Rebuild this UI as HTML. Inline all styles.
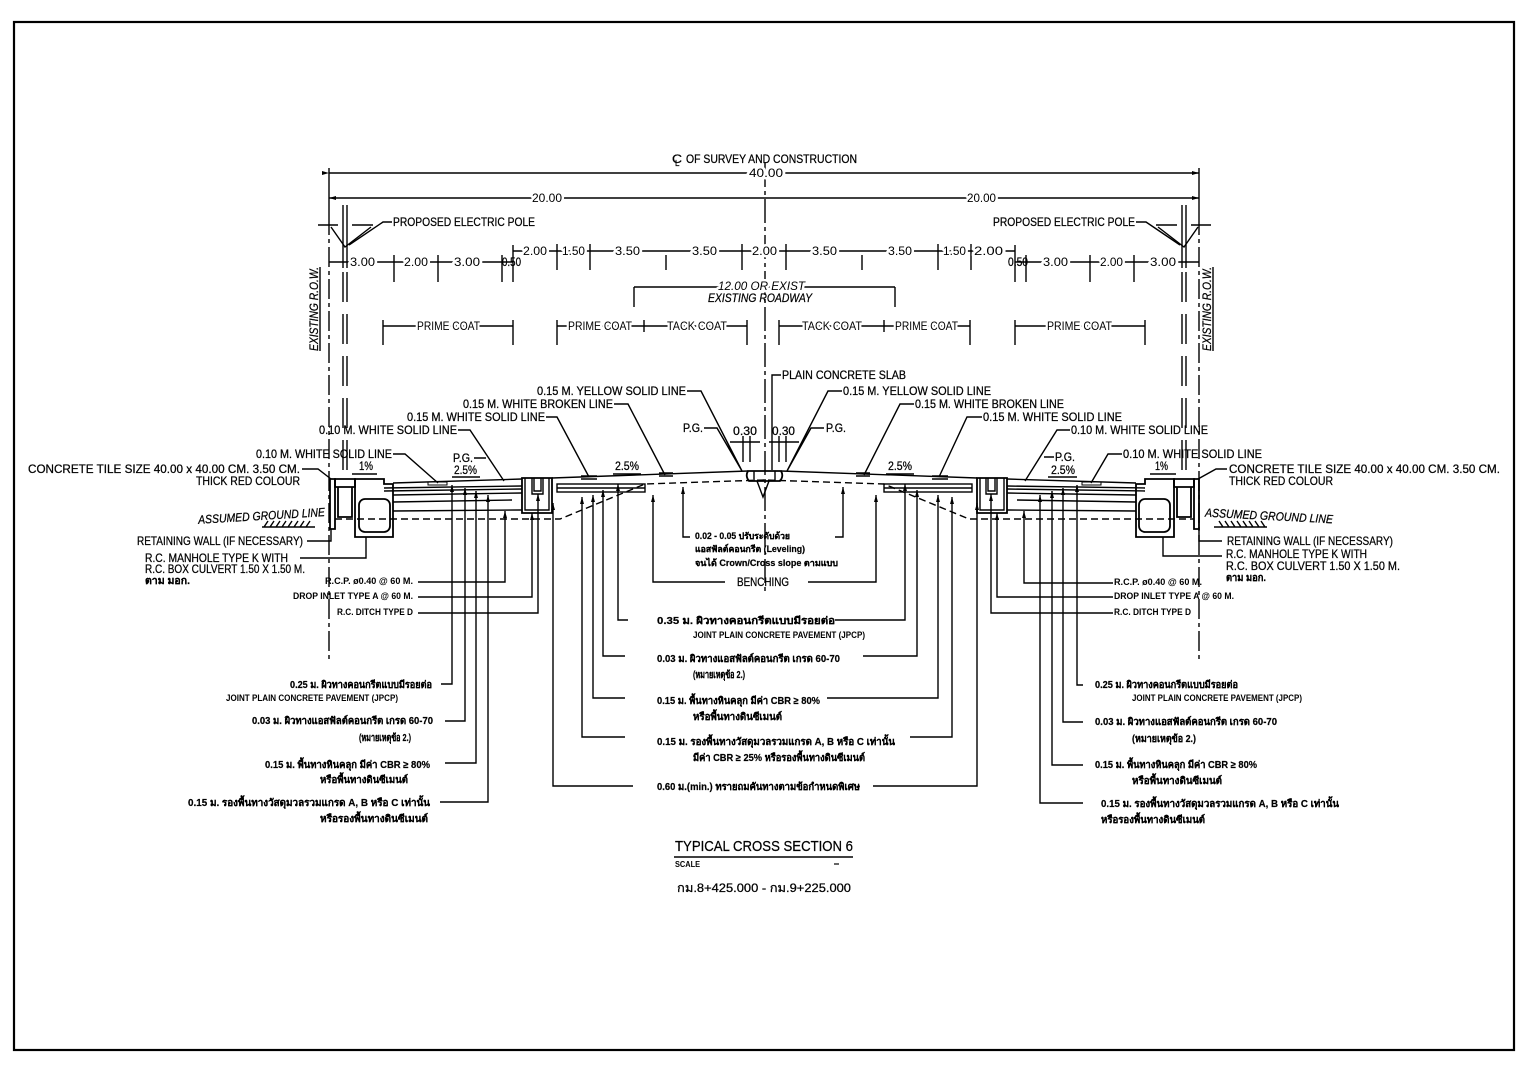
<!DOCTYPE html>
<html><head><meta charset="utf-8"><style>
html,body{margin:0;padding:0;background:#fff}
svg{display:block}
.t{font-family:"Liberation Sans",sans-serif;font-size:12px;fill:#000;stroke:#000;stroke-width:0.25px}
.i{font-style:italic}
.s{font-family:"Liberation Sans",sans-serif;font-size:9px;font-weight:bold;fill:#000}
.th{font-family:"Liberation Sans","Noto Sans CJK SC",sans-serif;font-size:10px;font-weight:bold;fill:#000;stroke:#000;stroke-width:0.2px}
.h{stroke:#fff;stroke-width:5px;paint-order:stroke;stroke-linejoin:round}
.ln{fill:none;stroke:#000;stroke-width:1.4}
.st{fill:none;stroke:#000;stroke-width:1.8}
</style></head><body>
<svg width="1528" height="1071" viewBox="0 0 1528 1071" xmlns="http://www.w3.org/2000/svg">
<defs>
<marker id="a" viewBox="0 0 10 10" refX="10" refY="5" markerWidth="7" markerHeight="4" preserveAspectRatio="none" orient="auto" markerUnits="userSpaceOnUse"><path d="M0,0 L10,5 L0,10 z" fill="#000"/></marker>
</defs>
<rect x="0" y="0" width="1528" height="1071" fill="#fff"/>
<rect x="14" y="22" width="1500" height="1028" fill="none" stroke="#000" stroke-width="2.2"/>

<!-- centre line & ROW lines -->
<path class="ln" d="M765,163 V595" stroke-dasharray="24,4,4,4"/>
<path class="ln" d="M329,168 V215 M1199,168 V215"/>
<path class="ln" d="M329,215 V660 M1199,215 V660" stroke-dasharray="20,4,4,4"/>

<!-- top dimension lines -->
<path class="ln" d="M329,173 H1199" marker-start="url(#a)" marker-end="url(#a)"/>
<path class="ln" d="M765,198 H329" marker-end="url(#a)"/>
<path class="ln" d="M765,198 H1199" marker-end="url(#a)"/>
<path class="ln" d="M513,251 H1015 M329,262 H513 M1015,262 H1199"/>
<path class="ln" d="M513,245 V282 M557,244 V270 M590,244 V270 M666,255 V270 M742,244 V270 M786,244 V270 M862,255 V270 M938,244 V270 M971,244 V270 M1015,245 V282 M394,255 V282 M438,255 V282 M502,255 V282 M1026,255 V282 M1090,255 V282 M1134,255 V282"/>
<path class="ln" d="M634,287 H895 M634,287 V307 M895,287 V307"/>
<path class="ln" d="M383,326 H513 M557,326 H747 M779,326 H970 M1015,326 H1145 M383,320 V345 M513,320 V345 M557,320 V345 M747,320 V345 M779,320 V345 M970,320 V345 M1015,320 V345 M1145,320 V345 M644,320 V332 M884,320 V332"/>

<text class="t" x="672" y="163" textLength="10" lengthAdjust="spacingAndGlyphs">C</text>
<text class="t" x="675" y="166" style="font-size:8px">L</text>
<text class="t" x="686" y="163" textLength="171" lengthAdjust="spacingAndGlyphs">OF SURVEY AND CONSTRUCTION</text>
<text class="t h" x="749" y="177" textLength="34" lengthAdjust="spacingAndGlyphs">40.00</text>
<text class="t h" x="532" y="202" textLength="30" lengthAdjust="spacingAndGlyphs">20.00</text>
<text class="t h" x="967" y="202" textLength="29" lengthAdjust="spacingAndGlyphs">20.00</text>
<text class="t" x="393" y="226" textLength="142" lengthAdjust="spacingAndGlyphs">PROPOSED ELECTRIC POLE</text>
<text class="t" x="993" y="226" textLength="142" lengthAdjust="spacingAndGlyphs">PROPOSED ELECTRIC POLE</text>

<text class="t h" x="350" y="266" textLength="25" lengthAdjust="spacingAndGlyphs">3.00</text>
<text class="t h" x="404" y="266" textLength="24" lengthAdjust="spacingAndGlyphs">2.00</text>
<text class="t h" x="454" y="266" textLength="26" lengthAdjust="spacingAndGlyphs">3.00</text>
<text class="t" x="502" y="266" textLength="19" lengthAdjust="spacingAndGlyphs">0.50</text>
<text class="t" x="1008" y="266" textLength="20" lengthAdjust="spacingAndGlyphs">0.50</text>
<text class="t h" x="1043" y="266" textLength="25" lengthAdjust="spacingAndGlyphs">3.00</text>
<text class="t h" x="1100" y="266" textLength="23" lengthAdjust="spacingAndGlyphs">2.00</text>
<text class="t h" x="1150" y="266" textLength="26" lengthAdjust="spacingAndGlyphs">3.00</text>

<text class="t h" x="523" y="255" textLength="24" lengthAdjust="spacingAndGlyphs">2.00</text>
<text class="t h" x="562" y="255" textLength="23" lengthAdjust="spacingAndGlyphs">1.50</text>
<text class="t h" x="615" y="255" textLength="25" lengthAdjust="spacingAndGlyphs">3.50</text>
<text class="t h" x="692" y="255" textLength="25" lengthAdjust="spacingAndGlyphs">3.50</text>
<text class="t h" x="752" y="255" textLength="25" lengthAdjust="spacingAndGlyphs">2.00</text>
<text class="t h" x="812" y="255" textLength="25" lengthAdjust="spacingAndGlyphs">3.50</text>
<text class="t h" x="888" y="255" textLength="24" lengthAdjust="spacingAndGlyphs">3.50</text>
<text class="t h" x="943" y="255" textLength="23" lengthAdjust="spacingAndGlyphs">1.50</text>
<text class="t h" x="974" y="255" textLength="29" lengthAdjust="spacingAndGlyphs">2.00</text>

<text class="t i h" x="718" y="290" textLength="87" lengthAdjust="spacingAndGlyphs">12.00 OR EXIST</text>
<text class="t i" x="708" y="302" textLength="104" lengthAdjust="spacingAndGlyphs">EXISTING ROADWAY</text>

<text class="t h" x="417" y="330" textLength="63" lengthAdjust="spacingAndGlyphs">PRIME COAT</text>
<text class="t h" x="568" y="330" textLength="64" lengthAdjust="spacingAndGlyphs">PRIME COAT</text>
<text class="t h" x="667" y="330" textLength="60" lengthAdjust="spacingAndGlyphs">TACK COAT</text>
<text class="t h" x="802" y="330" textLength="60" lengthAdjust="spacingAndGlyphs">TACK COAT</text>
<text class="t h" x="895" y="330" textLength="63" lengthAdjust="spacingAndGlyphs">PRIME COAT</text>
<text class="t h" x="1047" y="330" textLength="65" lengthAdjust="spacingAndGlyphs">PRIME COAT</text>

<!-- EXISTING ROW rotated -->
<text class="t i" transform="translate(318,309) rotate(-90)" x="0" y="0" text-anchor="middle" textLength="84" lengthAdjust="spacingAndGlyphs">EXISTING R.O.W.</text>
<path class="ln" d="M320,267 V351 M1213,267 V351" stroke-width="1"/>
<text class="t i" transform="translate(1211,309) rotate(-90)" x="0" y="0" text-anchor="middle" textLength="84" lengthAdjust="spacingAndGlyphs">EXISTING R.O.W.</text>

<!-- mirrored half (poles + structures) -->
<g id="half">
  <path class="ln" d="M343,205 V268 M347,205 V268"/>
  <path class="ln" d="M343,272 V470 M347,272 V470" stroke-dasharray="30,12"/>
  <path class="ln" d="M318,225 H338 M352,225 H373" stroke-width="3"/>
  <path class="ln" d="M331,227 L345,247 L371,227"/>
  <path class="st" d="M330,479 H335 V529 H330 Z"/>
  <path class="st" d="M335,479 H355 V487 H335 Z M338,487 H352 V517 H338 Z"/>
  <path class="st" d="M355,479 H384 V484 H393 V537 H355 Z"/>
  <rect class="st" x="359" y="499" width="31" height="33" rx="6"/>
  <path class="ln" d="M393,483 L522,479 M384,488 L522,486 M384,491 L522,489 M393,495 L522,493 M393,502 L512,500 M393,511 L522,510"/>
  <rect x="428" y="482" width="19" height="3" fill="none" stroke="#000" stroke-width="1"/>
  <path class="st" d="M522,478 H552 V513 H522 Z"/>
  <path class="ln" d="M525,478 V510 H549 V478 M532,478 V494 H543 V478 M534,478 V491 H541 V478"/>
  <path class="ln" d="M552,478 L748,471"/>
  <rect class="ln" x="557" y="484" width="88" height="8"/>
  <path class="ln" d="M557,488 H645"/>
  <path class="ln" d="M581,476 H597 M581,479 H597 M659,473 H673 M659,476 H673"/>
  <path class="ln" d="M730,442 H760 M743,436 V462 M750,436 V462"/>
  <path class="ln" d="M262,527 H315 M264,527 L268,521 M270,527 L274,521 M276,527 L280,521 M282,527 L286,521 M288,527 L292,521 M294,527 L298,521 M300,527 L304,521 M306,527 L310,521" stroke-width="1"/>
</g>
<use href="#half" transform="matrix(-1,0,0,1,1529,0)"/>

<!-- centre slab -->
<path class="st" d="M748,471 Q745,476 749,481 H780 Q784,476 781,471 Z"/>
<path class="ln" d="M754,471 V481 M775,471 V481 M757,481 L763,497 L769,481"/>

<!-- ground line -->
<path class="ln" d="M335,519 H560 L645,484 L764,480 L884,484 L969,519 H1194" stroke-dasharray="7,4"/>

<!-- pole leaders -->
<path class="ln" d="M392,222 H383 L349,245 M1136,222 H1146 L1180,245"/>

<!-- diagonal leaders -->
<path class="ln" d="M781,375 H772 V470
M687,391 H701 L742,471
M614,404 H628 L665,475
M546,417 H557 L589,477
M458,430 H470 L504,481
M474,458 H486
M393,454 H405 L438,483
M302,469 H318 L331,479
M704,428 H717 L742,471
M824,428 H811 L787,471
M842,391 H828 L787,471
M914,404 H900 L864,475
M982,417 H967 L939,477
M1070,430 H1057 L1025,481
M1054,457 H1044
M1122,454 H1108 L1091,483
M1227,469 H1216 L1198,479
M352,474 H377 M452,477 H480 M613,474 H641 M886,474 H914 M1048,477 H1077 M1150,474 H1176"/>

<!-- vertical leaders -->
<g class="ln">
<path d="M307,541 H331 V529"/>
<path d="M300,558 H366 V537"/>
<path d="M418,582 H505 V511" marker-end="url(#a)"/>
<path d="M418,597 H532 V513" marker-end="url(#a)"/>
<path d="M418,613 H538 V494" marker-end="url(#a)"/>
<path d="M441,684 H452 V485" marker-end="url(#a)"/>
<path d="M445,721 H465 V488" marker-end="url(#a)"/>
<path d="M445,763 H476 V491" marker-end="url(#a)"/>
<path d="M440,802 H488 V495" marker-end="url(#a)"/>
<path d="M633,786 H553 V503" marker-end="url(#a)"/>
<path d="M625,737 H582 V497" marker-end="url(#a)"/>
<path d="M625,698 H593 V495" marker-end="url(#a)"/>
<path d="M625,656 H603 V490" marker-end="url(#a)"/>
<path d="M628,620 H618 V484" marker-end="url(#a)"/>
<path d="M725,582 H653 V495" marker-end="url(#a)"/>
<path d="M690,537 H683 V487" marker-end="url(#a)"/>
<path d="M835,537 H843 V487" marker-end="url(#a)"/>
<path d="M808,582 H876 V495" marker-end="url(#a)"/>
<path d="M835,620 H905 V484" marker-end="url(#a)"/>
<path d="M863,656 H917 V490" marker-end="url(#a)"/>
<path d="M827,698 H938 V495" marker-end="url(#a)"/>
<path d="M910,737 H952 V497" marker-end="url(#a)"/>
<path d="M873,786 H977 V503" marker-end="url(#a)"/>
<path d="M1113,583 H1024 V511" marker-end="url(#a)"/>
<path d="M1113,597 H997 V513" marker-end="url(#a)"/>
<path d="M1113,613 H991 V494" marker-end="url(#a)"/>
<path d="M1083,685 H1077 V485" marker-end="url(#a)"/>
<path d="M1083,722 H1063 V488" marker-end="url(#a)"/>
<path d="M1083,765 H1052 V491" marker-end="url(#a)"/>
<path d="M1083,803 H1040 V495" marker-end="url(#a)"/>
<path d="M1222,541 H1199 V529"/>
<path d="M1222,556 H1163 V537"/>
</g>

<!-- middle labels -->
<text class="t" x="782" y="379" textLength="124" lengthAdjust="spacingAndGlyphs">PLAIN CONCRETE SLAB</text>
<text class="t" x="537" y="395" textLength="149" lengthAdjust="spacingAndGlyphs">0.15 M. YELLOW SOLID LINE</text>
<text class="t" x="843" y="395" textLength="148" lengthAdjust="spacingAndGlyphs">0.15 M. YELLOW SOLID LINE</text>
<text class="t" x="463" y="408" textLength="150" lengthAdjust="spacingAndGlyphs">0.15 M. WHITE BROKEN LINE</text>
<text class="t" x="915" y="408" textLength="149" lengthAdjust="spacingAndGlyphs">0.15 M. WHITE BROKEN LINE</text>
<text class="t" x="407" y="421" textLength="138" lengthAdjust="spacingAndGlyphs">0.15 M. WHITE SOLID LINE</text>
<text class="t" x="983" y="421" textLength="139" lengthAdjust="spacingAndGlyphs">0.15 M. WHITE SOLID LINE</text>
<text class="t" x="319" y="434" textLength="138" lengthAdjust="spacingAndGlyphs">0.10 M. WHITE SOLID LINE</text>
<text class="t" x="1071" y="434" textLength="137" lengthAdjust="spacingAndGlyphs">0.10 M. WHITE SOLID LINE</text>
<text class="t" x="256" y="458" textLength="136" lengthAdjust="spacingAndGlyphs">0.10 M. WHITE SOLID LINE</text>
<text class="t" x="1123" y="458" textLength="139" lengthAdjust="spacingAndGlyphs">0.10 M. WHITE SOLID LINE</text>
<text class="t" x="28" y="473" textLength="272" lengthAdjust="spacingAndGlyphs">CONCRETE TILE SIZE 40.00 x 40.00 CM. 3.50 CM.</text>
<text class="t" x="196" y="485" textLength="104" lengthAdjust="spacingAndGlyphs">THICK RED COLOUR</text>
<text class="t" x="1229" y="473" textLength="271" lengthAdjust="spacingAndGlyphs">CONCRETE TILE SIZE 40.00 x 40.00 CM. 3.50 CM.</text>
<text class="t" x="1229" y="485" textLength="104" lengthAdjust="spacingAndGlyphs">THICK RED COLOUR</text>

<text class="t" x="453" y="462" textLength="20" lengthAdjust="spacingAndGlyphs">P.G.</text>
<text class="t" x="683" y="432" textLength="20" lengthAdjust="spacingAndGlyphs">P.G.</text>
<text class="t" x="826" y="432" textLength="20" lengthAdjust="spacingAndGlyphs">P.G.</text>
<text class="t" x="1055" y="461" textLength="20" lengthAdjust="spacingAndGlyphs">P.G.</text>
<text class="t" x="454" y="474" textLength="23" lengthAdjust="spacingAndGlyphs">2.5%</text>
<text class="t" x="615" y="470" textLength="24" lengthAdjust="spacingAndGlyphs">2.5%</text>
<text class="t" x="888" y="470" textLength="24" lengthAdjust="spacingAndGlyphs">2.5%</text>
<text class="t" x="1051" y="474" textLength="24" lengthAdjust="spacingAndGlyphs">2.5%</text>
<text class="t" x="359" y="470" textLength="14" lengthAdjust="spacingAndGlyphs">1%</text>
<text class="t" x="1155" y="470" textLength="13" lengthAdjust="spacingAndGlyphs">1%</text>
<text class="t" x="733" y="435" textLength="24" lengthAdjust="spacingAndGlyphs">0.30</text>
<text class="t" x="772" y="435" textLength="23" lengthAdjust="spacingAndGlyphs">0.30</text>

<text class="t i" transform="rotate(-3.5 261 516)" x="198" y="520" textLength="127" lengthAdjust="spacingAndGlyphs">ASSUMED GROUND LINE</text>
<text class="t i" transform="rotate(3 1269 516)" x="1205" y="520" textLength="128" lengthAdjust="spacingAndGlyphs">ASSUMED GROUND LINE</text>

<text class="t" x="137" y="545" textLength="166" lengthAdjust="spacingAndGlyphs">RETAINING WALL (IF NECESSARY)</text>
<text class="t" x="145" y="562" textLength="143" lengthAdjust="spacingAndGlyphs">R.C. MANHOLE TYPE K WITH</text>
<text class="t" x="145" y="573" textLength="160" lengthAdjust="spacingAndGlyphs">R.C. BOX CULVERT 1.50 X 1.50 M.</text>
<text class="th" x="145" y="584" textLength="45" lengthAdjust="spacingAndGlyphs">ตาม มอก.</text>
<text class="t" x="1227" y="545" textLength="166" lengthAdjust="spacingAndGlyphs">RETAINING WALL (IF NECESSARY)</text>
<text class="t" x="1226" y="558" textLength="141" lengthAdjust="spacingAndGlyphs">R.C. MANHOLE TYPE K WITH</text>
<text class="t" x="1226" y="570" textLength="174" lengthAdjust="spacingAndGlyphs">R.C. BOX CULVERT 1.50 X 1.50 M.</text>
<text class="th" x="1226" y="581" textLength="40" lengthAdjust="spacingAndGlyphs">ตาม มอก.</text>

<text class="s" x="325" y="584" textLength="88" lengthAdjust="spacingAndGlyphs">R.C.P. ø0.40 @ 60 M.</text>
<text class="s" x="293" y="599" textLength="120" lengthAdjust="spacingAndGlyphs">DROP INLET TYPE A @ 60 M.</text>
<text class="s" x="337" y="615" textLength="76" lengthAdjust="spacingAndGlyphs">R.C. DITCH TYPE D</text>
<text class="s" x="1114" y="585" textLength="88" lengthAdjust="spacingAndGlyphs">R.C.P. ø0.40 @ 60 M.</text>
<text class="s" x="1114" y="599" textLength="120" lengthAdjust="spacingAndGlyphs">DROP INLET TYPE A @ 60 M.</text>
<text class="s" x="1114" y="615" textLength="77" lengthAdjust="spacingAndGlyphs">R.C. DITCH TYPE D</text>

<text class="th" x="695" y="539" textLength="95" lengthAdjust="spacingAndGlyphs" style="font-size:9px">0.02 - 0.05 ปรับระดับด้วย</text>
<text class="th" x="695" y="552" textLength="110" lengthAdjust="spacingAndGlyphs" style="font-size:9px">แอสฟัลต์คอนกรีต (Leveling)</text>
<text class="th" x="695" y="566" textLength="143" lengthAdjust="spacingAndGlyphs" style="font-size:9px">จนได้ Crown/Cross slope ตามแบบ</text>
<text class="t" x="737" y="586" textLength="52" lengthAdjust="spacingAndGlyphs">BENCHING</text>

<!-- bottom centre -->
<text class="th" x="657" y="624" textLength="178" lengthAdjust="spacingAndGlyphs">0.35 ม. ผิวทางคอนกรีตแบบมีรอยต่อ</text>
<text class="s" x="693" y="638" textLength="172" lengthAdjust="spacingAndGlyphs">JOINT PLAIN CONCRETE PAVEMENT (JPCP)</text>
<text class="th" x="657" y="662" textLength="183" lengthAdjust="spacingAndGlyphs">0.03 ม. ผิวทางแอสฟัลต์คอนกรีต เกรด 60-70</text>
<text class="th" x="693" y="678" textLength="52" lengthAdjust="spacingAndGlyphs">(หมายเหตุข้อ 2.)</text>
<text class="th" x="657" y="704" textLength="163" lengthAdjust="spacingAndGlyphs">0.15 ม. พื้นทางหินคลุก มีค่า CBR ≥ 80%</text>
<text class="th" x="693" y="720" textLength="89" lengthAdjust="spacingAndGlyphs">หรือพื้นทางดินซีเมนต์</text>
<text class="th" x="657" y="745" textLength="238" lengthAdjust="spacingAndGlyphs">0.15 ม. รองพื้นทางวัสดุมวลรวมแกรด A, B หรือ C เท่านั้น</text>
<text class="th" x="693" y="761" textLength="172" lengthAdjust="spacingAndGlyphs">มีค่า CBR ≥ 25% หรือรองพื้นทางดินซีเมนต์</text>
<text class="th" x="657" y="790" textLength="203" lengthAdjust="spacingAndGlyphs">0.60 ม.(min.) ทรายถมคันทางตามข้อกำหนดพิเศษ</text>

<!-- bottom left -->
<text class="th" x="290" y="688" textLength="142" lengthAdjust="spacingAndGlyphs">0.25 ม. ผิวทางคอนกรีตแบบมีรอยต่อ</text>
<text class="s" x="226" y="701" textLength="172" lengthAdjust="spacingAndGlyphs">JOINT PLAIN CONCRETE PAVEMENT (JPCP)</text>
<text class="th" x="252" y="724" textLength="181" lengthAdjust="spacingAndGlyphs">0.03 ม. ผิวทางแอสฟัลต์คอนกรีต เกรด 60-70</text>
<text class="th" x="359" y="741" textLength="52" lengthAdjust="spacingAndGlyphs">(หมายเหตุข้อ 2.)</text>
<text class="th" x="265" y="768" textLength="165" lengthAdjust="spacingAndGlyphs">0.15 ม. พื้นทางหินคลุก มีค่า CBR ≥ 80%</text>
<text class="th" x="320" y="783" textLength="88" lengthAdjust="spacingAndGlyphs">หรือพื้นทางดินซีเมนต์</text>
<text class="th" x="188" y="806" textLength="242" lengthAdjust="spacingAndGlyphs">0.15 ม. รองพื้นทางวัสดุมวลรวมแกรด A, B หรือ C เท่านั้น</text>
<text class="th" x="320" y="822" textLength="108" lengthAdjust="spacingAndGlyphs">หรือรองพื้นทางดินซีเมนต์</text>

<!-- bottom right -->
<text class="th" x="1095" y="688" textLength="143" lengthAdjust="spacingAndGlyphs">0.25 ม. ผิวทางคอนกรีตแบบมีรอยต่อ</text>
<text class="s" x="1132" y="701" textLength="170" lengthAdjust="spacingAndGlyphs">JOINT PLAIN CONCRETE PAVEMENT (JPCP)</text>
<text class="th" x="1095" y="725" textLength="182" lengthAdjust="spacingAndGlyphs">0.03 ม. ผิวทางแอสฟัลต์คอนกรีต เกรด 60-70</text>
<text class="th" x="1132" y="742" textLength="64" lengthAdjust="spacingAndGlyphs">(หมายเหตุข้อ 2.)</text>
<text class="th" x="1095" y="768" textLength="162" lengthAdjust="spacingAndGlyphs">0.15 ม. พื้นทางหินคลุก มีค่า CBR ≥ 80%</text>
<text class="th" x="1132" y="784" textLength="90" lengthAdjust="spacingAndGlyphs">หรือพื้นทางดินซีเมนต์</text>
<text class="th" x="1101" y="807" textLength="238" lengthAdjust="spacingAndGlyphs">0.15 ม. รองพื้นทางวัสดุมวลรวมแกรด A, B หรือ C เท่านั้น</text>
<text class="th" x="1101" y="823" textLength="104" lengthAdjust="spacingAndGlyphs">หรือรองพื้นทางดินซีเมนต์</text>

<!-- title -->
<text class="t" x="675" y="851" style="font-size:15px" textLength="178" lengthAdjust="spacingAndGlyphs">TYPICAL CROSS SECTION 6</text>
<path d="M674,857 H853" stroke="#000" stroke-width="1.6"/>
<text class="s" x="675" y="867" style="font-size:8px" textLength="25" lengthAdjust="spacingAndGlyphs">SCALE</text>
<path d="M834,864 H839" stroke="#000" stroke-width="1.2"/>
<text class="t" x="677" y="892" textLength="174" lengthAdjust="spacingAndGlyphs">กม.8+425.000 - กม.9+225.000</text>
</svg>
</body></html>
